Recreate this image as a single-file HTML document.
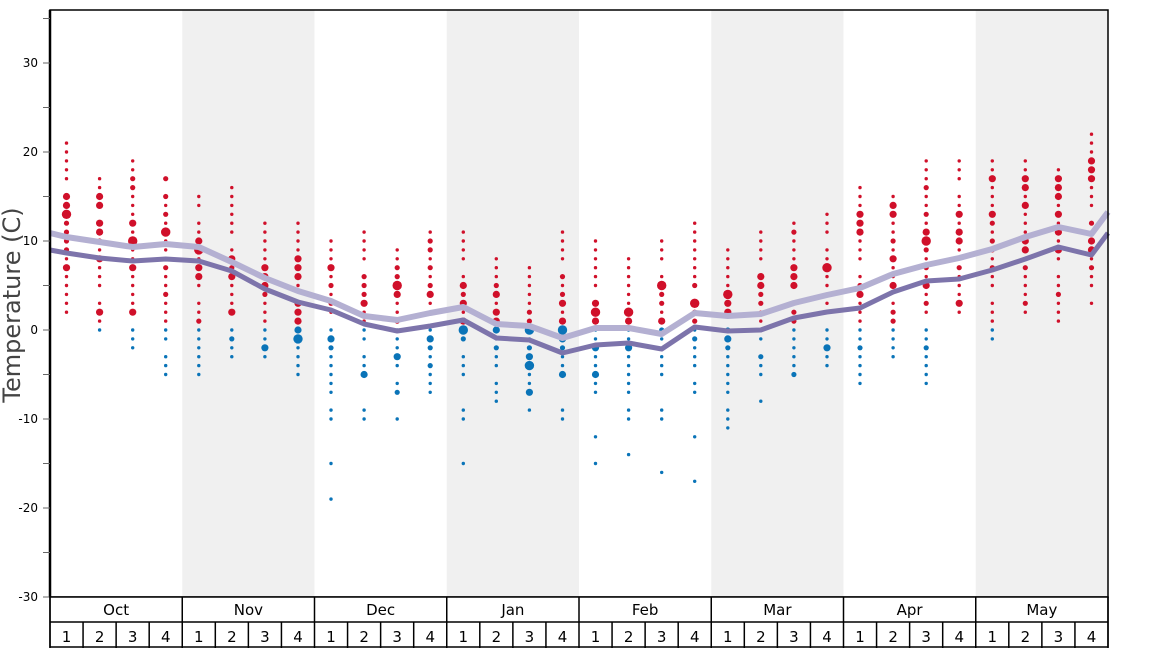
<!DOCTYPE html><html><head><style>body{margin:0;background:#fff}svg{display:block;font-family:"DejaVu Sans","Liberation Sans",sans-serif}</style></head><body>
<svg id="chart" width="1168" height="648" xmlns="http://www.w3.org/2000/svg"></svg>
<script>
(function(){
const sv=document.getElementById('chart');let h='';
const X0=50,X1=1108,W=(X1-X0)/32,Y=t=>330-t*8.9;
for(let m=1;m<8;m+=2)h+=`<rect x="${X0+m*4*W}" y="10" width="${4*W}" height="587" fill="#f0f0f0"/>`;
const P=s=>{const o={};s.split(' ').forEach(p=>{const a=p.split(':');o[a[0]]=+a[1];});return o;};
const cols=[
[2,21,"15:3 14:3 13:4 12:2 11:2 10:2 9:2 7:3"],[0,17,"15:3 14:3 12:3 11:3 8:3 2:3"],[-2,19,"12:3 10:4 7:3 2:3 17:2"],[-5,17,"17:2 15:2 11:4 7:2"],
[-5,15,"10:3 9:4 7:3 6:3"],[-3,16,"8:3 6:3 2:3 -1:2"],[-3,12,"7:3 6:3 5:3 -2:3"],[-5,12,"8:3 7:3 6:3 3:3 2:3 1:3 0:3 -1:4"],
[-19,10,"7:3 5:2 3:2 -1:3"],[-10,11,"6:2 5:2 3:3 -5:3"],[-10,9,"7:2 6:2 5:4 4:3 -3:3 -7:2"],[-7,11,"10:2 9:2 5:2 4:3 -1:3 -4:2"],
[-15,11,"5:3 3:3 1:3 0:4 -1:2"],[-8,8,"5:2 4:3 2:3 1:3 0:3 -2:2"],[-9,7,"2:2 1:2 0:4 -3:3 -4:4 -7:3"],[-10,11,"6:2 3:3 1:3 0:4 -1:3 -2:2 -5:3"],
[-15,10,"3:3 2:4 1:3 -2:3 -5:3"],[-14,8,"2:4 1:3 -2:3"],[-16,10,"5:4 3:2 1:3 0:2"],[-17,12,"5:2 3:4 2:2 -1:2"],
[-11,9,"4:4 3:3 2:3 0:2 -1:3"],[-8,11,"6:3 5:3 3:2 -3:2"],[-5,12,"11:2 7:3 6:3 5:3 2:2 -5:2"],[-4,13,"7:4 -2:3"],
[-6,16,"13:3 12:3 11:3 5:2 4:3 -2:2"],[-3,15,"14:3 13:3 10:2 8:3 5:3 2:2"],[-6,19,"13:2 11:3 10:4 9:2 5:3 3:2"],[2,19,"13:3 11:3 10:3 7:2 3:3"],
[-1,19,"17:3 13:3 12:2 9:2 7:2"],[2,19,"17:3 16:3 14:3 10:3 9:3 3:2"],[1,18,"17:3 16:3 15:3 13:3 11:3 9:3"],[3,22,"19:3 18:3 17:3 12:2 10:3 9:3 7:2"]];
const R={1:1.7,2:2.6,3:3.6,4:4.7};
cols.forEach((c,i)=>{const big=P(c[2]);const x=X0+W*(i+.5);for(let t=c[0];t<=c[1];t++){const k=String(t);const md=((t*7+i*3)%9+9)%9;const end=(t==c[0]||t==c[1]);if(!end&&!(k in big)){if(md==4)continue;if(t<-5&&md%2==1)continue;if(t<-10&&md!=0)continue;}let sz=big[k]||(md==1&&t>c[0]+2&&t<c[1]-2&&t>-5?2:1);const r=R[sz];h+=`<circle cx="${x.toFixed(1)}" cy="${Y(t).toFixed(1)}" r="${r}" fill="${t>0?'#d0102a':'#0a74b8'}"/>`;}});
const L=[233,237,242,247,244,247,262,278,291,301,316,320,313,307,324,326,338,328,328,334,313,316,314,303,295,288,274,265,258,249,237,227,234,212];
const D=[250,253,258,261,259,261,271,289,302,310,324,331,326,320,338,340,353,345,343,349,327,331,330,318,312,308,292,281,279,270,259,247,255,233];
const pts=a=>a.map((y,k)=>{let x=k==0?X0:k==33?X1:X0+W*(k-.5);return x.toFixed(1)+','+y}).join(' ');
h+=`<polyline points="${pts(L)}" fill="none" stroke="#b4b0d2" stroke-width="6" stroke-linejoin="round"/>`;
h+=`<polyline points="${pts(D)}" fill="none" stroke="#7d74ab" stroke-width="5" stroke-linejoin="round"/>`;
h+=`<rect x="${X0}" y="10" width="${X1-X0}" height="587" fill="none" stroke="#000" stroke-width="1.5"/>`;
h+=`<line x1="${X0}" y1="10" x2="${X0}" y2="597" stroke="#000" stroke-width="2.5"/>`;
for(let t=-30;t<=35;t+=5){h+=`<line x1="${X0-7}" x2="${X0}" y1="${Y(t)}" y2="${Y(t)}" stroke="#666" stroke-width="1"/>`;if(t%10==0)h+=`<text x="38" y="${Y(t)+4}" font-size="12" text-anchor="end" fill="#000">${t}</text>`;}
h+=`<text transform="translate(20,305) rotate(-90)" font-size="24" fill="#444" text-anchor="middle">Temperature (C)</text>`;
h+=`<rect x="${X0}" y="597" width="${X1-X0}" height="50" fill="#fff" stroke="#000" stroke-width="1.5"/><line x1="${X0}" x2="${X1}" y1="622" y2="622" stroke="#000" stroke-width="1.5"/>`;
['Oct','Nov','Dec','Jan','Feb','Mar','Apr','May'].forEach((m,i)=>{const x=X0+i*4*W;h+=`<line x1="${x}" x2="${x}" y1="597" y2="648" stroke="#000" stroke-width="1.5"/><text x="${x+2*W}" y="615" font-size="15" text-anchor="middle">${m}</text>`;
for(let w=0;w<4;w++){const xx=x+w*W;if(w)h+=`<line x1="${xx}" x2="${xx}" y1="622" y2="648" stroke="#000" stroke-width="1.5"/>`;h+=`<text x="${xx+W/2}" y="642" font-size="15" text-anchor="middle">${w+1}</text>`;}});
h+=`<line x1="${X1}" x2="${X1}" y1="597" y2="648" stroke="#000" stroke-width="1.5"/>`;
sv.innerHTML=h;
})();
</script></body></html>
